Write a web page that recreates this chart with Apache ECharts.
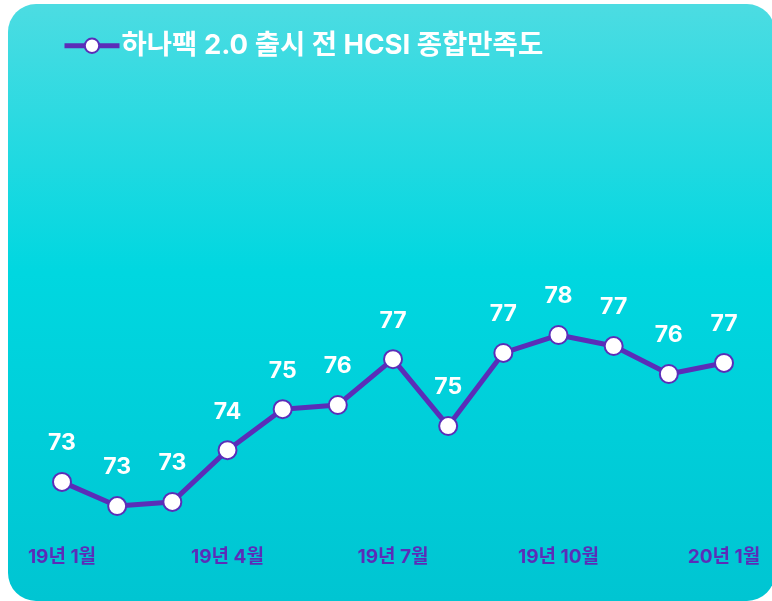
<!DOCTYPE html>
<html>
<head>
<meta charset="utf-8">
<script src="https://cdn.jsdelivr.net/npm/echarts@6/dist/echarts.min.js"></script>
<style>
html,body{margin:0;padding:0;background:#fff;}
#chart{width:772px;height:601px;}
</style>
</head>
<body>
<div id="chart"></div>
<script>
const seriesName = '하나팩 2.0 출시 전 HCSI 종합만족도';
const categories = ['19년 1월','19년 2월','19년 3월','19년 4월','19년 5월','19년 6월','19년 7월','19년 8월','19년 9월','19년 10월','19년 11월','19년 12월','20년 1월'];
const values = [73.33, 72.63, 72.75, 74.25, 75.44, 75.56, 76.89, 74.95, 77.07, 77.59, 77.27, 76.46, 76.78];

const chart = echarts.init(document.getElementById('chart'), null, {renderer:'canvas'});
const purple = '#5B2DB8';
const fontFam = 'Inter, "Noto Sans CJK KR", sans-serif';
chart.setOption({
  backgroundColor: '#ffffff',
  graphic: [{
    type: 'rect', z: -10, silent: true,
    shape: {x: 8, y: 4, width: 767, height: 597, r: 28},
    style: {
      fill: new echarts.graphic.LinearGradient(0, 0, 0, 1, [
        {offset: 0, color: '#4CDCE2'},
        {offset: 0.45, color: '#00D7E0'},
        {offset: 1, color: '#00C5D2'}
      ])
    }
  }],
  legend: {
    left: 62, top: 32, padding: 0,
    itemWidth: 55, itemHeight: 18,
    itemGap: 4,
    lineStyle: {width: 5},
    itemStyle: {borderWidth: 2},
    textStyle: {color: '#ffffff', fontSize: 27.5, fontWeight: 'bold', fontFamily: fontFam, padding: [0,0,0,-3]},
    data: [seriesName]
  },
  grid: {left: 62, right: 48, top: 114, bottom: 56, containLabel: false},
  xAxis: {
    type: 'category', data: categories, boundaryGap: false,
    axisLine: {show: false}, axisTick: {show: false}, splitLine: {show: false},
    axisLabel: {interval: 2, color: purple, fontSize: 19, fontWeight: 'bold', fontFamily: fontFam, margin: 3}
  },
  yAxis: {type: 'value', min: 71.5, max: 84, show: false, splitLine: {show: false}},
  series: [{
    name: seriesName, type: 'line', data: values,
    symbol: 'circle', symbolSize: 18,
    lineStyle: {color: purple, width: 5},
    itemStyle: {color: '#ffffff', borderColor: purple, borderWidth: 2},
    label: {
      show: true, position: 'top', distance: 17,
      color: '#ffffff', fontSize: 23, fontWeight: 'bold', fontFamily: fontFam,
      formatter: p => Math.round(p.value)
    },
    animation: false
  }],
  animation: false
});
</script>
</body>
</html>
